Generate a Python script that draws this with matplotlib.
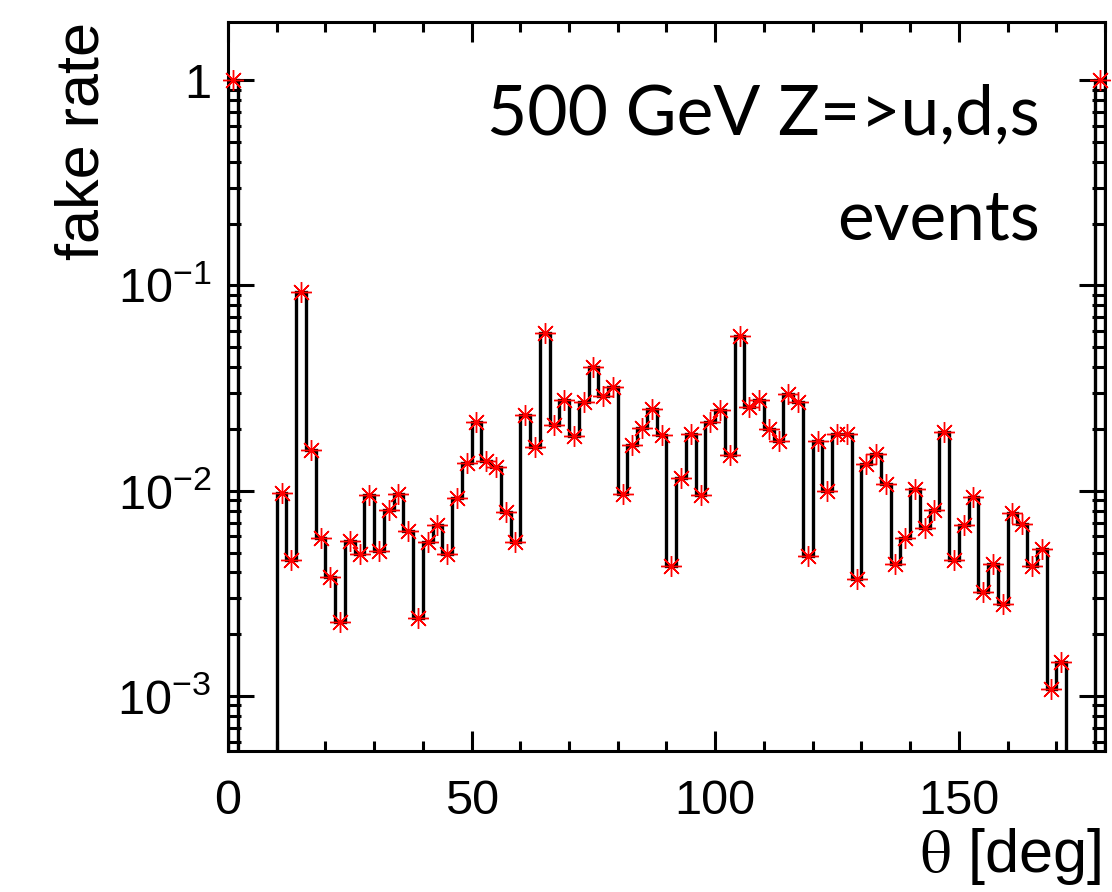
import numpy as np
import matplotlib
matplotlib.use("Agg")
import matplotlib.pyplot as plt
from matplotlib.ticker import FixedLocator, FixedFormatter, MultipleLocator

plt.rcParams['font.family'] = ['Liberation Sans', 'DejaVu Sans']
plt.rcParams['mathtext.fontset'] = 'custom'
plt.rcParams['mathtext.rm'] = 'Liberation Sans'
plt.rcParams['mathtext.it'] = 'Liberation Sans:italic'

# theta bins of 2 deg from 0 to 180
bin_width = 2
theta_edges = np.arange(0, 180 + bin_width, bin_width)

# fake rate per bin (0 = empty bin)
fake_rate = [1.0, 0, 0, 0, 0,
             0.0098, 0.0046, 0.093, 0.0158, 0.0059, 0.0038, 0.0023, 0.0057, 0.0049, 0.0095,
             0.0051, 0.0081, 0.0096, 0.0064, 0.0024, 0.0056, 0.0068, 0.0049, 0.0092, 0.0136,
             0.0216, 0.0139, 0.0130, 0.0079, 0.0056, 0.0233, 0.0163, 0.059, 0.0209, 0.0276,
             0.0185, 0.027, 0.040, 0.029, 0.032, 0.0096, 0.0167, 0.0202, 0.025, 0.0187,
             0.0043, 0.0116, 0.0189, 0.0095, 0.0216, 0.0247, 0.0149, 0.0566, 0.0255, 0.0276,
             0.020, 0.0174, 0.0295, 0.027, 0.0048, 0.0174, 0.0100, 0.019, 0.019, 0.0037,
             0.0135, 0.0151, 0.0108, 0.0044, 0.0059, 0.0102, 0.0066, 0.0081, 0.0193, 0.0046,
             0.0068, 0.0093, 0.0032, 0.0044, 0.0028, 0.0078, 0.0069, 0.0043, 0.0052, 0.00108,
             0.00146,
             0, 0, 0, 1.0]

y_ticks = [1e-3, 1e-2, 1e-1, 1]
y_tick_labels = [r'$10^{-3}$', r'$10^{-2}$', r'$10^{-1}$', '1']
x_ticks = [0, 50, 100, 150]

ymin, ymax = 5.4e-4, 1.92

fig = plt.figure(figsize=(11.12, 8.92), dpi=100)
ax = fig.add_axes([0.2050, 0.1581, 0.7887, 0.8172])

vals = np.array(fake_rate)
centers = 0.5 * (theta_edges[:-1] + theta_edges[1:])

# histogram outline, empty bins drawn at the bottom like ROOT does
ax.stairs(np.where(vals > 0, vals, ymin * 0.5), theta_edges, color='black', lw=2.4, zorder=2)
filled = vals > 0
ax.plot(centers[filled], vals[filled], ls='none', marker=(8, 2, 0), ms=15,
        mec='red', mew=1.0, zorder=3, clip_on=False)

ax.set_yscale('log')
ax.set_xlim(0, 180)
ax.set_ylim(ymin, ymax)

ax.yaxis.set_major_locator(FixedLocator(y_ticks))
ax.yaxis.set_major_formatter(FixedFormatter(y_tick_labels))
minor = [m * 10.0 ** e for e in range(-4, 1) for m in range(2, 10)]
ax.yaxis.set_minor_locator(FixedLocator(minor))
ax.yaxis.set_minor_formatter(FixedFormatter([''] * len(minor)))
ax.xaxis.set_major_locator(FixedLocator(x_ticks))
ax.xaxis.set_minor_locator(MultipleLocator(10))

for s in ax.spines.values():
    s.set_linewidth(2.2)
ax.tick_params(which='both', direction='in', top=True, right=True, width=2.2)
ax.tick_params(axis='y', which='major', length=19, labelsize=35, pad=12)
ax.tick_params(axis='y', which='minor', length=9.5)
ax.tick_params(axis='x', which='major', length=14.5, labelsize=35, pad=20)
ax.tick_params(axis='x', which='minor', length=7.5)

fig.text(0.9353, 0.8487, '500 GeV Z=>u,d,s', ha='right', va='baseline',
         fontsize=50, family=['Lato', 'DejaVu Sans'])
fig.text(0.9353, 0.731, 'events', ha='right', va='baseline',
         fontsize=50, family=['Lato', 'DejaVu Sans'])

fig.text(0.075, 0.975, 'fake rate', rotation=90, ha='center', va='top', fontsize=44)
fig.text(0.990, 1 - 872 / 892, r'$\mathrm{\theta}$ [deg]', ha='right', va='baseline',
         fontsize=44, math_fontfamily='stix')

fig.savefig('out.png', dpi=100)
